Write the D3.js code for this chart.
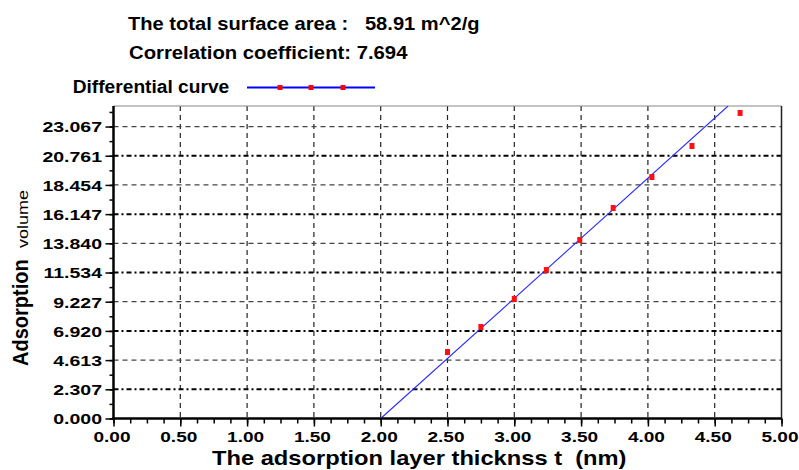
<!DOCTYPE html>
<html>
<head>
<meta charset="utf-8">
<script src="https://cdn.jsdelivr.net/npm/d3@7"></script>
<style>
  body { margin: 0; background: #fff; }
  svg { display: block; font-family: "Liberation Sans", Arial, sans-serif; }
  text { white-space: pre; }
</style>
</head>
<body>
<svg id="chart"></svg>
<script>
const width = 799, height = 470;

// t-plot data
const thickness = [2.50, 2.75, 3.00, 3.24, 3.49, 3.74, 4.03, 4.33, 4.69];
const volume    = [5.25, 7.23, 9.44, 11.73, 14.10, 16.63, 19.08, 21.53, 24.14];

// fitted straight line (end points)
const fitT = [2.00, 4.60];
const fitV = [0.00, 24.69];

const xLabels = ["0.00", "0.50", "1.00", "1.50", "2.00", "2.50", "3.00", "3.50", "4.00", "4.50", "5.00"];
const yLabels = ["0.000", "2.307", "4.613", "6.920", "9.227", "11.534", "13.840", "16.147", "18.454", "20.761", "23.067"];

const titleLine1 = "The total surface area :   58.91 m^2/g";
const titleLine2 = "Correlation coefficient: 7.694";
const legendLabel = "Differential curve";
const xTitle = "The adsorption layer thicknss t  (nm)";

const plot = {left: 113.5, right: 781.5, top: 106, bottom: 418.5};

const svg = d3.select("#chart")
    .attr("width", width)
    .attr("height", height);

const x = d3.scaleLinear().domain([0, 5]).range([plot.left, plot.right]);
const y = d3.scaleLinear().domain([0, 24.69]).range([plot.bottom, plot.top]);

const xTicks = xLabels.map(Number);
const yTicks = yLabels.map(Number);

// grid
const grid = svg.append("g");
grid.selectAll("line.vgrid")
    .data(xTicks.filter(d => d > 0 && d < 5))
    .enter().append("line")
    .attr("x1", d => x(d)).attr("x2", d => x(d))
    .attr("y1", plot.top).attr("y2", plot.bottom)
    .attr("stroke", "#222")
    .attr("stroke-width", 1.2)
    .attr("stroke-dasharray", "5,4");

grid.selectAll("line.hgrid")
    .data(yTicks.filter(d => d > 0))
    .enter().append("line")
    .attr("x1", plot.left).attr("x2", plot.right)
    .attr("y1", d => y(d)).attr("y2", d => y(d))
    .attr("stroke", (d, i) => i % 2 === 0 ? "#000" : "#444")
    .attr("stroke-width", (d, i) => i % 2 === 0 ? 2 : 1.2)
    .attr("stroke-dasharray", (d, i) => i % 2 === 0 ? "5,3,2,3" : "5,4");

// frame top/right
svg.append("line")
    .attr("x1", plot.left).attr("x2", plot.right)
    .attr("y1", plot.top).attr("y2", plot.top)
    .attr("stroke", "#888").attr("stroke-width", 1);
svg.append("line")
    .attr("x1", plot.right).attr("x2", plot.right)
    .attr("y1", plot.top).attr("y2", plot.bottom)
    .attr("stroke", "#222").attr("stroke-width", 1.5);

// fitted line, clipped to plot
svg.append("clipPath").attr("id", "clip")
    .append("rect")
    .attr("x", plot.left).attr("y", plot.top)
    .attr("width", plot.right - plot.left)
    .attr("height", plot.bottom - plot.top);

const line = d3.line().x(d => x(d[0])).y(d => y(d[1]));
svg.append("path")
    .datum(d3.zip(fitT, fitV))
    .attr("clip-path", "url(#clip)")
    .attr("fill", "none")
    .attr("stroke", "#2b2bff")
    .attr("stroke-width", 1.1)
    .attr("d", line);

// points
svg.selectAll("rect.pt")
    .data(d3.zip(thickness, volume))
    .enter().append("rect")
    .attr("x", d => x(d[0]) - 2.5)
    .attr("y", d => y(d[1]) - 3)
    .attr("width", 5).attr("height", 6)
    .attr("fill", "#ff1010");

// axes
const xAxis = svg.append("g")
    .attr("transform", `translate(0,${plot.bottom})`)
    .call(d3.axisBottom(x).tickValues(d3.range(0, 5.001, 0.125)).tickSize(5).tickFormat(""));
const xAxisMajor = svg.append("g")
    .attr("transform", `translate(0,${plot.bottom})`)
    .call(d3.axisBottom(x).tickValues(xTicks).tickSize(8).tickFormat((d, i) => xLabels[i]));

const yAxis = svg.append("g")
    .attr("transform", `translate(${plot.left},0)`)
    .call(d3.axisLeft(y).tickValues(d3.range(0, 24.69, 2.30673 / 2)).tickSize(4).tickFormat(""));
const yAxisMajor = svg.append("g")
    .attr("transform", `translate(${plot.left},0)`)
    .call(d3.axisLeft(y).tickValues(yTicks).tickSize(8).tickFormat((d, i) => yLabels[i]));

[xAxis, xAxisMajor, yAxis, yAxisMajor].forEach(g => {
    g.select(".domain").remove();
    g.selectAll(".tick line").attr("stroke", "#000").attr("stroke-width", 1.5);
});

xAxisMajor.selectAll(".tick text")
    .attr("font-family", "'Liberation Sans', Arial, sans-serif")
    .attr("font-size", 15).attr("font-weight", "bold").attr("fill", "#000")
    .attr("y", 23.5).attr("dy", null)
    .attr("x", -2 / 1.27)
    .attr("transform", "scale(1.27,1)");

yAxisMajor.selectAll(".tick text")
    .attr("font-family", "'Liberation Sans', Arial, sans-serif")
    .attr("font-size", 15).attr("font-weight", "bold").attr("fill", "#000")
    .attr("x", -11.5 / 1.3).attr("dy", null).attr("y", 5.3)
    .attr("transform", "scale(1.3,1)");

// axis lines
svg.append("line")
    .attr("x1", plot.left).attr("x2", plot.left)
    .attr("y1", plot.top).attr("y2", plot.bottom + 1)
    .attr("stroke", "#000").attr("stroke-width", 2.5);
svg.append("line")
    .attr("x1", plot.left - 1).attr("x2", plot.right)
    .attr("y1", plot.bottom).attr("y2", plot.bottom)
    .attr("stroke", "#000").attr("stroke-width", 2.5);

// titles
svg.append("text")
    .attr("transform", "translate(128,29.5) scale(1.15,1)")
    .attr("font-size", 17.5).attr("font-weight", "bold")
    .text(titleLine1);
svg.append("text")
    .attr("transform", "translate(129,59.3) scale(1.16,1)")
    .attr("font-size", 17.5).attr("font-weight", "bold")
    .text(titleLine2);

// legend
svg.append("text")
    .attr("transform", "translate(72.7,92.5) scale(1.095,1)")
    .attr("font-size", 17.5).attr("font-weight", "bold")
    .text(legendLabel);
svg.append("line")
    .attr("x1", 247).attr("x2", 375)
    .attr("y1", 87.5).attr("y2", 87.5)
    .attr("stroke", "#0000ff").attr("stroke-width", 2);
svg.selectAll("rect.leg")
    .data([280, 311, 343])
    .enter().append("rect")
    .attr("x", d => d - 2.5).attr("y", 85)
    .attr("width", 5).attr("height", 5)
    .attr("fill", "#ff0000");

// axis titles
svg.append("text")
    .attr("transform", "translate(212,465) scale(1.215,1)")
    .attr("font-size", 19.5).attr("font-weight", "bold")
    .text(xTitle);

svg.append("text")
    .attr("transform", "translate(28,366) rotate(-90) scale(1,1.14)")
    .attr("font-size", 20).attr("font-weight", "bold")
    .text("Adsorption");
svg.append("text")
    .attr("transform", "translate(28,248) rotate(-90) scale(1,0.85)")
    .attr("font-size", 18)
    .text("volume");
</script>
</body>
</html>
